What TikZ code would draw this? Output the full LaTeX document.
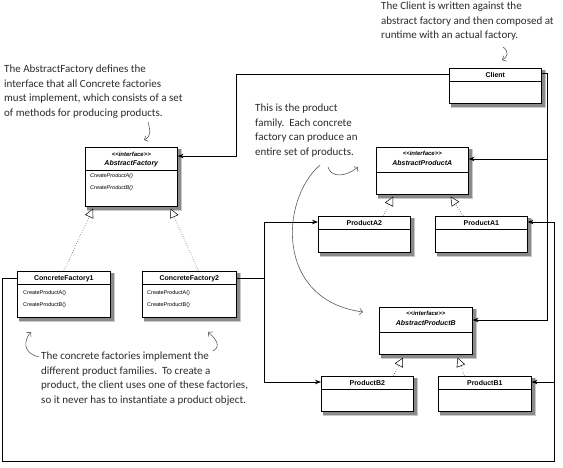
\documentclass[tikz,border=0pt]{standalone}
\usepackage{fontspec}
\setmainfont{Liberation Sans}
\newfontfamily\umlfont{Liberation Sans}
\newfontfamily\notefont{Carlito}
\usetikzlibrary{arrows.meta, positioning, calc, backgrounds}
\definecolor{noteInk}{HTML}{2B2B2B}
\definecolor{noteArrow}{HTML}{5A5A5A}
\definecolor{shadowGray}{HTML}{8A8A8A}
\tikzset{
  umlbox/.style={draw, fill=white, line width=0.6pt, inner sep=0pt, anchor=north west},
  umltitle/.style={font=\umlfont\bfseries\fontsize{7}{8}\selectfont, inner sep=0pt},
  umlstereo/.style={font=\umlfont\bfseries\itshape\fontsize{6}{7}\selectfont, inner sep=0pt},
  umlop/.style={font=\umlfont\fontsize{5.5}{6.5}\selectfont, inner sep=0pt, anchor=west},
  sepline/.style={line width=0.5pt},
  assoc/.style={-{Stealth[length=6pt, width=4.5pt]}, line width=0.8pt},
  realize/.style={dotted, line width=0.5pt, -{Triangle[open, length=9pt, width=9pt, fill=white]}},
  notetext/.style={font=\notefont\fontsize{11}{14.5}\selectfont, text=noteInk, align=left,
    anchor=north west, inner sep=0pt},
  notearr/.style={-{Straight Barb[length=3pt, width=6pt]}, noteArrow, line width=0.6pt},
}
\begin{document}
\begin{tikzpicture}[x=1pt, y=-1pt]
  \useasboundingbox (0,0) rectangle (563,467);

  % notes
  \node[notetext] (noteclient) at (381,2)
    {The Client is written against the\\abstract factory and then composed at\\runtime with an actual factory.};
  \node[notetext] (noteaf) at (4,65)
    {The AbstractFactory defines the\\interface that all Concrete factories\\must implement, which consists of a set\\of methods for producing products.};
  \node[notetext] (notefamily) at (255,104)
    {This is the product\\family.\ \ Each concrete\\factory can produce an\\entire set of products.};
  \node[notetext] (noteconcrete) at (41,352)
    {The concrete factories implement the\\different product families.\ \ To create a\\product, the client uses one of these factories,\\so it never has to instantiate a product object.};

  % client
  \node[umlbox, minimum width=92pt, minimum height=35pt] (client) at (449,68) {};
  \node[umltitle] (clientname) at ([yshift=-7pt]client.north) {Client};
  \draw[sepline] ([yshift=-13pt]client.north west) -- ([yshift=-13pt]client.north east);

  % abstract factory
  \node[umlbox, minimum width=92pt, minimum height=59pt] (af) at (85,147) {};
  \node[umlstereo] (afst) at ([yshift=-7pt]af.north) {<<interface>>};
  \node[umltitle, font=\umlfont\bfseries\itshape\fontsize{7}{8}\selectfont] (afname) at ([yshift=-17pt]af.north) {AbstractFactory};
  \draw[sepline] ([yshift=-23pt]af.north west) -- ([yshift=-23pt]af.north east);
  \node[umlop, font=\umlfont\itshape\fontsize{5.5}{6.5}\selectfont] (afopa) at ([xshift=5pt, yshift=-29pt]af.north west) {CreateProductA()};
  \node[umlop, font=\umlfont\itshape\fontsize{5.5}{6.5}\selectfont] (afopb) at ([xshift=5pt, yshift=-41pt]af.north west) {CreateProductB()};

  % concrete factories
  \node[umlbox, minimum width=93pt, minimum height=46pt] (cf1) at (17,271) {};
  \node[umltitle] (cf1name) at ([yshift=-8pt]cf1.north) {ConcreteFactory1};
  \draw[sepline] ([yshift=-13pt]cf1.north west) -- ([yshift=-13pt]cf1.north east);
  \node[umlop] (cf1opa) at ([xshift=6pt, yshift=-22pt]cf1.north west) {CreateProductA()};
  \node[umlop] (cf1opb) at ([xshift=6pt, yshift=-34pt]cf1.north west) {CreateProductB()};

  \node[umlbox, minimum width=94pt, minimum height=46pt] (cf2) at (142,271) {};
  \node[umltitle] (cf2name) at ([yshift=-8pt]cf2.north) {ConcreteFactory2};
  \draw[sepline] ([yshift=-13pt]cf2.north west) -- ([yshift=-13pt]cf2.north east);
  \node[umlop] (cf2opa) at ([xshift=5pt, yshift=-22pt]cf2.north west) {CreateProductA()};
  \node[umlop] (cf2opb) at ([xshift=5pt, yshift=-34pt]cf2.north west) {CreateProductB()};

  % product family A
  \node[umlbox, minimum width=92pt, minimum height=47pt] (apa) at (376,147) {};
  \node[umlstereo] (apast) at ([yshift=-6pt]apa.north) {<<interface>>};
  \node[umltitle, font=\umlfont\bfseries\itshape\fontsize{7}{8}\selectfont] (apaname) at ([yshift=-16pt]apa.north) {AbstractProductA};
  \draw[sepline] ([yshift=-25pt]apa.north west) -- ([yshift=-25pt]apa.north east);

  \node[umlbox, minimum width=92pt, minimum height=36pt] (pa2) at (318,216) {};
  \node[umltitle] (pa2name) at ([yshift=-7pt]pa2.north) {ProductA2};
  \draw[sepline] ([yshift=-13pt]pa2.north west) -- ([yshift=-13pt]pa2.north east);

  \node[umlbox, minimum width=92pt, minimum height=36pt] (pa1) at (435,216) {};
  \node[umltitle] (pa1name) at ([yshift=-7pt]pa1.north) {ProductA1};
  \draw[sepline] ([yshift=-13pt]pa1.north west) -- ([yshift=-13pt]pa1.north east);

  % product family B
  \node[umlbox, minimum width=93pt, minimum height=47pt] (apb) at (379,307) {};
  \node[umlstereo] (apbst) at ([yshift=-6pt]apb.north) {<<interface>>};
  \node[umltitle, font=\umlfont\bfseries\itshape\fontsize{7}{8}\selectfont] (apbname) at ([yshift=-16pt]apb.north) {AbstractProductB};
  \draw[sepline] ([yshift=-25pt]apb.north west) -- ([yshift=-25pt]apb.north east);

  \node[umlbox, minimum width=92pt, minimum height=35pt] (pb2) at (321,376) {};
  \node[umltitle] (pb2name) at ([yshift=-7pt]pb2.north) {ProductB2};
  \draw[sepline] ([yshift=-13pt]pb2.north west) -- ([yshift=-13pt]pb2.north east);

  \node[umlbox, minimum width=93pt, minimum height=35pt] (pb1) at (438,376) {};
  \node[umltitle] (pb1name) at ([yshift=-7pt]pb1.north) {ProductB1};
  \draw[sepline] ([yshift=-13pt]pb1.north west) -- ([yshift=-13pt]pb1.north east);

  % box shadows
  \begin{scope}[on background layer]
    \foreach \b in {client, af, cf1, cf2, apa, pa2, pa1, apb, pb2, pb1} {
      \fill[shadowGray!45] ([xshift=1.5pt, yshift=-1.5pt]\b.north west) rectangle ([xshift=4.5pt, yshift=-4.5pt]\b.south east);
      \fill[shadowGray] ([xshift=1.5pt, yshift=-1.5pt]\b.north west) rectangle ([xshift=3pt, yshift=-3pt]\b.south east);
    }
  \end{scope}

  % realizations
  \draw[realize] (cf1.north) -- ([xshift=8pt, yshift=-2pt]af.south west);
  \draw[realize] ([xshift=9pt]cf2.north) -- ([xshift=-7pt, yshift=-2pt]af.south east);
  \draw[realize] ([xshift=19pt]pa2.north) -- ([xshift=17pt, yshift=-2pt]apa.south west);
  \draw[realize] ([xshift=-18pt]pa1.north) -- ([xshift=-18pt, yshift=-2pt]apa.south east);
  \draw[realize] ([xshift=26pt]pb2.north) -- ([xshift=24pt, yshift=-3pt]apb.south west);
  \draw[realize] ([xshift=-20pt]pb1.north) -- ([xshift=-15pt, yshift=-3pt]apb.south east);

  % client associations
  \coordinate (clientoutl) at ([yshift=-6pt]client.north west);
  \coordinate (clientoutr) at ([yshift=-5pt]client.north east);
  \coordinate (afin) at ([yshift=-9pt]af.north east);
  \coordinate (apain) at ([yshift=-12pt]apa.north east);
  \coordinate (apbin) at ([yshift=-13pt]apb.north east);
  \draw[assoc] (clientoutl) -- ++(-213,0) |- (afin);
  \draw[line width=0.8pt] (clientoutr) -- ++(6,0) coordinate (cbus);
  \draw[assoc] (cbus) |- (apbin);
  \draw[assoc] (cbus |- apain) -- (apain);

  % concrete factory 1 creates A1, B1
  \coordinate (cf1out) at ([yshift=-7pt]cf1.north west);
  \coordinate (pa1in) at ([yshift=-6pt]pa1.north east);
  \coordinate (pb1in) at ([yshift=-6pt]pb1.north east);
  \coordinate (loopcorner) at (554,461);
  \draw[assoc] (cf1out) -- ++(-15,0) |- (loopcorner) |- (pa1in);
  \draw[assoc] (loopcorner |- pb1in) -- (pb1in);

  % concrete factory 2 creates A2, B2
  \coordinate (cf2out) at ([yshift=-7pt]cf2.north east);
  \coordinate (pa2in) at ([yshift=-6pt]pa2.north west);
  \coordinate (pb2in) at ([yshift=-6pt]pb2.north west);
  \draw[line width=0.8pt] (cf2out) -- ++(28,0) coordinate (cfork);
  \draw[assoc] (cfork) |- (pa2in);
  \draw[assoc] (cfork) |- (pb2in);

  % hand drawn pointers
  \draw[notearr] (503,47) .. controls (509,51) and (508,57) .. (502,60);
  \draw[notearr] (148,122) .. controls (150,130) and (152,136) .. (144,140);
  \draw[notearr] (328,167) .. controls (331,178) and (346,177) .. (358,167);
  \draw[notearr] (320,165) .. controls (280,200) and (275,300) .. (363,312);
  \draw[notearr] (39,357) .. controls (22,353) and (24,340) .. (31,332);
  \draw[notearr] (213,351) .. controls (222,346) and (215,338) .. (208,332);
\end{tikzpicture}
\end{document}
